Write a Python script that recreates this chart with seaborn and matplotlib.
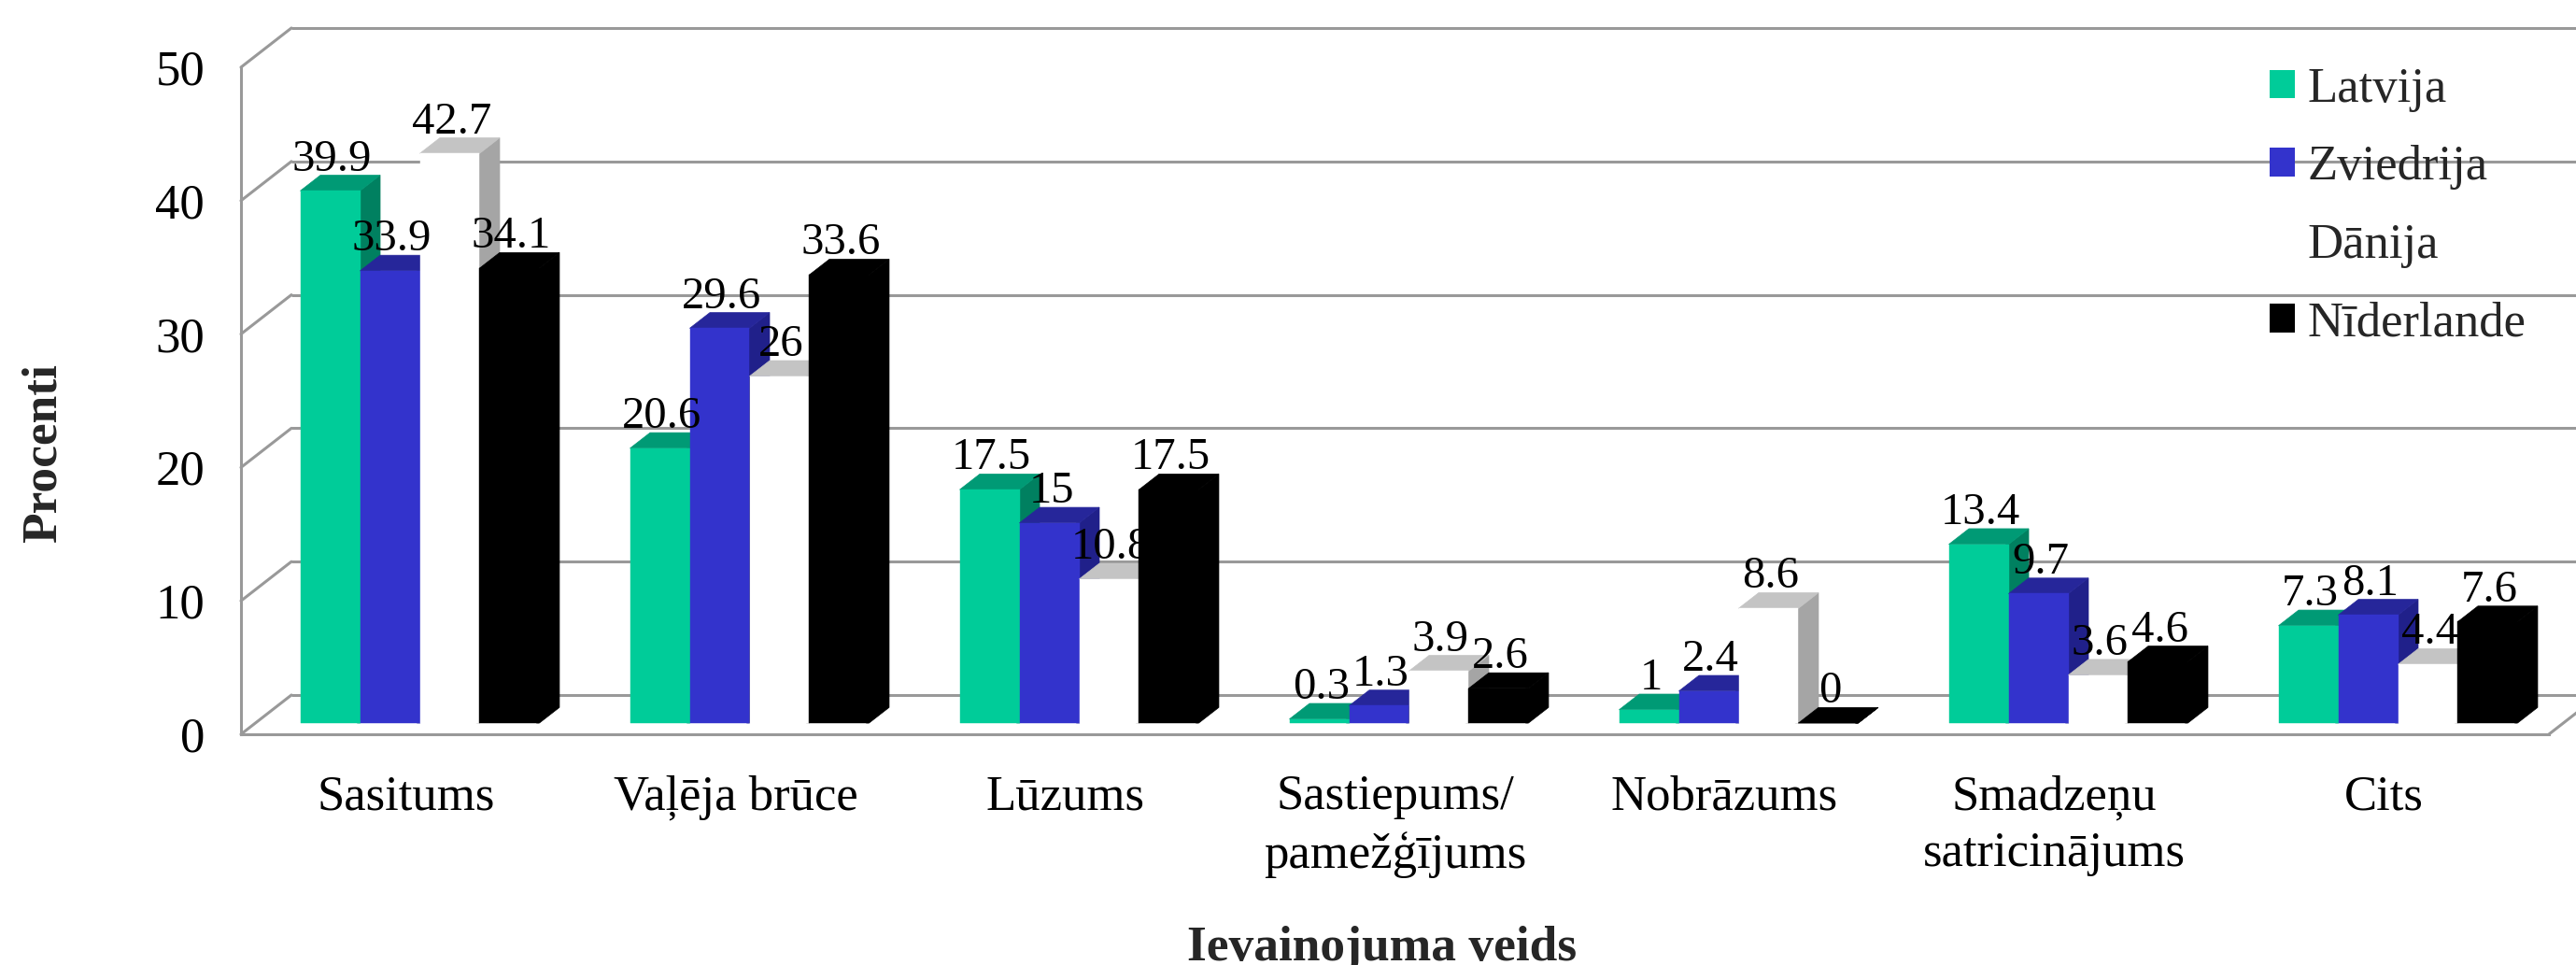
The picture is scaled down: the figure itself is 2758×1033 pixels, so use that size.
import matplotlib
matplotlib.use("Agg")
import matplotlib.pyplot as plt
from matplotlib.patches import Polygon, Patch
from matplotlib.transforms import Affine2D
import pandas as pd
import seaborn as sns

categories = ["Sasitums", "Vaļēja brūce", "Lūzums", "Sastiepums/\npamežģījums",
              "Nobrāzums", "Smadzeņu\nsatricinājums", "Cits"]
series_names = ["Latvija", "Zviedrija", "Dānija", "Nīderlande"]
latvija = [39.9, 20.6, 17.5, 0.3, 1, 13.4, 7.3]
zviedrija = [33.9, 29.6, 15, 1.3, 2.4, 9.7, 8.1]
danija = [42.7, 26, 10.8, 3.9, 8.6, 3.6, 4.4]
niderlande = [34.1, 33.6, 17.5, 2.6, 0, 4.6, 7.6]
labels = {
    "Latvija": ["39.9", "20.6", "17.5", "0.3", "1", "13.4", "7.3"],
    "Zviedrija": ["33.9", "29.6", "15", "1.3", "2.4", "9.7", "8.1"],
    "Dānija": ["42.7", "26", "10.8", "3.9", "8.6", "3.6", "4.4"],
    "Nīderlande": ["34.1", "33.6", "17.5", "2.6", "0", "4.6", "7.6"],
}
yticks = [0, 10, 20, 30, 40, 50]
front = ["#00CC99", "#3333CC", "#FFFFFF", "#000000"]
top = ["#009A75", "#26269A", "#C4C4C4", "#000000"]
side = ["#008060", "#20208A", "#A5A5A5", "#000000"]

W, H = 2758, 1033
GRID = "#999999"
sns.set_theme(style="white")
plt.rcParams["font.family"] = ["Liberation Serif", "DejaVu Serif"]

df = pd.DataFrame({
    "cat": [c for _ in series_names for c in categories],
    "series": [s for s in series_names for _ in categories],
    "value": latvija + zviedrija + danija + niderlande,
})

fig = plt.figure(figsize=(W / 100, H / 100), dpi=100, facecolor="white")
ax = fig.add_axes([258 / W, (H - 786) / H, 2471 / W, 714 / H])
sns.barplot(data=df, x="cat", y="value", hue="series", order=categories,
            hue_order=series_names, palette=front, width=0.725, gap=0,
            saturation=1, legend=False, ax=ax, errorbar=None, zorder=5)
ax.set_xlim(-0.5, 6.5)
ax.set_ylim(0, 50)
ax.set_facecolor("none")

bar_off = Affine2D().translate(15, 12)
back_off = Affine2D().translate(54, 42)
bar_tr = ax.transData + bar_off
back_tr = ax.transData + back_off
lw = 2.2

# walls
ax.hlines(yticks, -0.5, 7.0, color=GRID, lw=lw, transform=back_tr, zorder=1, clip_on=False)
inv = ax.transData.inverted()
dx = inv.transform((54, 0))[0] - inv.transform((0, 0))[0]
dy = inv.transform((0, 42))[1] - inv.transform((0, 0))[1]
for t in yticks:
    ax.plot([-0.5, -0.5 + dx], [t, t + dy], color=GRID, lw=lw, zorder=1, clip_on=False)
ax.plot([6.5, 6.5 + dx], [0, dy], color=GRID, lw=lw, zorder=1, clip_on=False)

# bars with depth
ddx = inv.transform((21.5, 0))[0] - inv.transform((0, 0))[0]
ddy = inv.transform((0, 16.7))[1] - inv.transform((0, 0))[1]
eps = inv.transform((3, 0))[0] - inv.transform((0, 0))[0]
text_tr = bar_tr + Affine2D().translate(2, 5)
for i, cont in enumerate(ax.containers):
    z = 5 + i
    for j, p in enumerate(cont):
        x0, w, v = p.get_x(), p.get_width(), p.get_height()
        x1 = x0 + w
        p.set_transform(bar_tr)
        p.set_zorder(z + 0.2)
        p.set_clip_on(False)
        p.set_edgecolor(front[i])
        p.set_linewidth(0.3)
        # the side and top run a little under the front face so no seam shows
        ax.add_patch(Polygon([(x1 - eps, 0), (x1, 0), (x1 + ddx, ddy), (x1 + ddx, v + ddy),
                              (x1, v), (x1 - eps, v)],
                             facecolor=side[i], edgecolor=side[i], lw=0.5, transform=bar_tr,
                             zorder=z, clip_on=False))
        ax.add_patch(Polygon([(x0, v), (x0 + ddx, v + ddy), (x1 + ddx, v + ddy), (x1, v)],
                             facecolor=top[i], edgecolor=top[i], lw=0.5, transform=bar_tr,
                             zorder=z + 0.1, clip_on=False))
        ax.text(x0 + w / 2, v + ddy, labels[series_names[i]][j], transform=text_tr,
                ha="center", va="baseline", fontsize=35, color="black", zorder=20,
                clip_on=False)

# axes furniture
sns.despine(ax=ax, top=True, right=True)
for s in ("left", "bottom"):
    ax.spines[s].set_color(GRID)
    ax.spines[s].set_linewidth(lw)
    ax.spines[s].set_zorder(2)
ax.set_yticks(yticks)
ax.tick_params(axis="y", length=10, width=lw, color=GRID, labelsize=38, pad=18, labelcolor="black")
ax.tick_params(axis="x", length=0, labelsize=38, pad=31, labelcolor="black")
ax.set_xlabel("")
ax.set_ylabel("")
for t in ax.get_xticklabels():
    t.set_linespacing(1.33)

fig.text(46.5 / W, 1 - 485 / H, "Procenti", rotation=90, fontsize=38.5, fontweight="bold",
         ha="center", va="center")
fig.text(1480 / W, 1 - 1028 / H, "Ievainojuma veids", fontsize=38.5, fontweight="bold",
         ha="center", va="baseline")

handles = [Patch(facecolor=c, edgecolor="none", label=s) for c, s in zip(front, series_names)]
leg = ax.legend(handles=handles, loc="upper left", frameon=False, fontsize=38,
                bbox_to_anchor=(2430 / W, 1 - 72 / H), bbox_transform=fig.transFigure,
                borderpad=0, borderaxespad=0, handlelength=0.51, handleheight=0.51,
                handletextpad=0.25, labelspacing=0.67)
leg.set_zorder(30)

fig.savefig("out.png", dpi=100)
